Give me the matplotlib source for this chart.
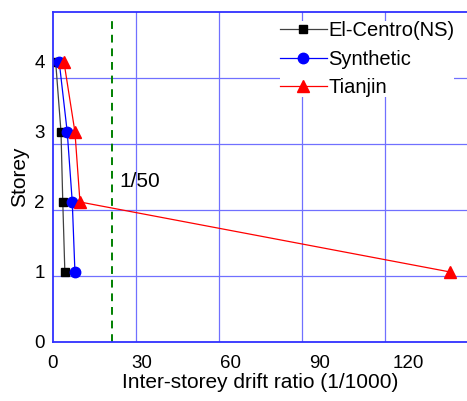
import matplotlib
matplotlib.use("Agg")
import matplotlib.pyplot as plt

plt.rcParams['font.family'] = ['Liberation Sans', 'DejaVu Sans']

storey = [4, 3, 2, 1]
el_centro = [0.9, 2.7, 3.3, 4.0]
synthetic = [2.1, 4.8, 6.5, 7.4]
tianjin = [3.7, 7.4, 9.1, 134.0]
limit = 20  # 1/50

xticks = [0, 30, 60, 90, 120]
yticks = [0, 1, 2, 3, 4]
xmax = 140
ymax = 4.714

fig = plt.figure(figsize=(4.67, 4.01), dpi=100)
ax = fig.add_axes([53/467, 59/401, 415/467, 330/401])

ax.plot(el_centro, storey, color="#404040", lw=0.9, marker="s", ms=6, mfc="black", mec="black", label="El-Centro(NS)")
ax.plot(synthetic, storey, color="blue", lw=0.9, marker="o", ms=7.5, mfc="blue", mec="blue", label="Synthetic")
ax.plot(tianjin, storey, color="red", lw=0.9, marker="^", ms=8.5, mfc="red", mec="red", label="Tianjin")

ax.plot([limit, limit], [0, 4.63], color="#008000", lw=1.4, ls=(0, (4, 3)))
ax.text(22.5, 2.29, "1/50", fontsize=15, va="center", ha="left")

ax.set_xlim(0, xmax)
ax.set_ylim(0, ymax)
ax.set_xticks(xticks)
ax.set_yticks(yticks)
ax.set_xticks([xmax/5*i for i in range(1, 5)], minor=True)
ax.set_yticks([ymax/5*i for i in range(1, 5)], minor=True)
ax.grid(which="minor", color="#7070ff", lw=0.9)
ax.grid(which="major", visible=False)
ax.tick_params(which="both", length=0, labelsize=13.5)
ax.tick_params(axis="x", pad=9)
ax.tick_params(axis="y", pad=6)

for s in ["left", "bottom", "top", "right"]:
    ax.spines[s].set_color("#3030ff")
    ax.spines[s].set_linewidth(1.3)

ax.set_xlabel("Inter-storey drift ratio (1/1000)", fontsize=15, labelpad=1)
ax.set_ylabel("Storey", fontsize=15, labelpad=4)

leg = ax.legend(loc="upper left", bbox_to_anchor=(0.522, 1.003), fontsize=14.5,
                handlelength=2.35, handletextpad=0.05, labelspacing=0.48,
                borderpad=0.0, frameon=True, fancybox=False, framealpha=1)
leg.get_frame().set_edgecolor("none")
leg.get_frame().set_facecolor("white")

fig.savefig("out.png", dpi=100)
